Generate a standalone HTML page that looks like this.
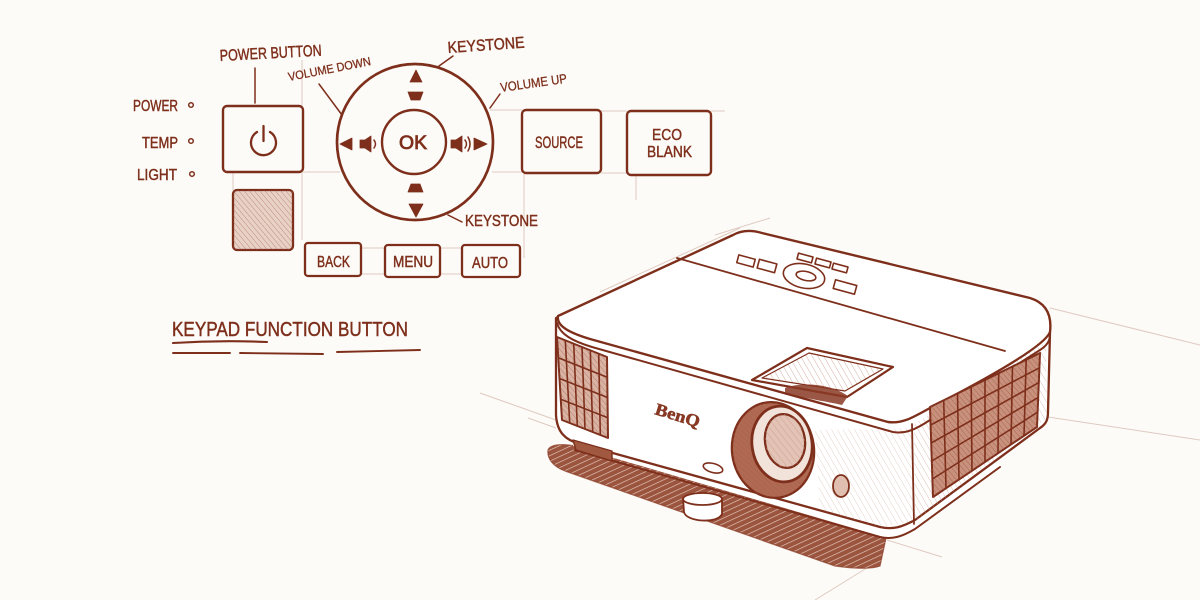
<!DOCTYPE html>
<html><head><meta charset="utf-8"><style>
html,body{margin:0;padding:0;background:#fcfbf8;width:1200px;height:600px;overflow:hidden}
svg{display:block}
text{font-family:"Liberation Sans",sans-serif;fill:#7e2f1b;stroke:#7e2f1b;stroke-width:0.45}
</style></head><body>
<svg width="1200" height="600" viewBox="0 0 1200 600">
<defs>
<pattern id="hs" width="4" height="4" patternUnits="userSpaceOnUse" patternTransform="rotate(-40)"><line x1="0" y1="0" x2="0" y2="4" stroke="#a25a42" stroke-width="1"/></pattern>
<pattern id="hd" width="5" height="5" patternUnits="userSpaceOnUse" patternTransform="rotate(-25)"><rect width="5" height="5" fill="#93472f"/><line x1="0" y1="0" x2="5" y2="0" stroke="#e9cfc2" stroke-width="1.2"/></pattern>
<pattern id="hl" width="5" height="5" patternUnits="userSpaceOnUse" patternTransform="rotate(-30)"><line x1="0" y1="0" x2="0" y2="5" stroke="#c89a88" stroke-width="0.8"/></pattern>
</defs>

<!-- faint guide lines -->
<g stroke="#c9a394" stroke-width="1" fill="none" opacity="0.55">
<line x1="303" y1="172" x2="340" y2="172"/>
<line x1="492" y1="172" x2="522" y2="172"/>
<line x1="490" y1="110" x2="522" y2="110"/>
<line x1="601" y1="111" x2="627" y2="111"/>
<line x1="601" y1="173" x2="627" y2="173"/>
<line x1="711" y1="111" x2="725" y2="111"/>
<line x1="302" y1="60" x2="302" y2="106"/>
<line x1="302" y1="172" x2="302" y2="240"/>
<line x1="524" y1="174" x2="524" y2="258"/>
<line x1="636" y1="175" x2="636" y2="200"/>
<line x1="361" y1="248" x2="385" y2="248"/>
<line x1="361" y1="274" x2="385" y2="274"/>
<line x1="440" y1="248" x2="462" y2="248"/>
<line x1="440" y1="274" x2="462" y2="274"/>
<line x1="233" y1="172" x2="233" y2="190"/>
<line x1="480" y1="393" x2="556" y2="420"/>
<line x1="600" y1="292" x2="740" y2="228"/>
<line x1="715" y1="235" x2="770" y2="218"/>
<line x1="1050" y1="308" x2="1200" y2="345"/>
<line x1="1048" y1="417" x2="1200" y2="440"/>
<line x1="887" y1="540" x2="942" y2="557"/>
<line x1="870" y1="566" x2="815" y2="600"/>
<line x1="528" y1="418" x2="556" y2="428"/>
</g>

<!-- ===== KEYPAD DIAGRAM ===== -->
<g stroke="#7e2f1b" fill="none" stroke-linecap="round" stroke-linejoin="round">
<rect x="223" y="106" width="80" height="66" rx="4" stroke-width="2.4"/>
<rect x="233" y="190" width="60" height="60" rx="4" stroke-width="2.3" fill="#e8d2c7"/>
<rect x="233" y="190" width="60" height="60" rx="4" stroke="none" fill="url(#hs)" opacity="0.6"/>
<rect x="522" y="110" width="79" height="63" rx="4" stroke-width="2.4"/>
<rect x="627" y="111" width="84" height="64" rx="4" stroke-width="2.4"/>
<rect x="305" y="243" width="56" height="33" rx="3" stroke-width="2.3"/>
<rect x="385" y="245" width="55" height="32" rx="3" stroke-width="2.3"/>
<rect x="462" y="245" width="58" height="32" rx="3" stroke-width="2.3"/>
<circle cx="415" cy="142" r="78" stroke-width="2.7"/>
<circle cx="414" cy="142" r="32" stroke-width="2.4"/>
<!-- power icon -->
<path d="M257 132 A12.5 12.5 0 1 0 270 132" stroke-width="2.3"/>
<line x1="263.5" y1="126" x2="263.5" y2="141" stroke-width="2.3"/>
<!-- leaders -->
<line x1="255" y1="68" x2="255" y2="103" stroke-width="1.5"/>
<line x1="319" y1="84" x2="342" y2="115" stroke-width="1.5"/>
<line x1="453" y1="56" x2="439" y2="66" stroke-width="1.5"/>
<line x1="500" y1="94" x2="490" y2="108" stroke-width="1.5"/>
<line x1="462" y1="222" x2="448" y2="215" stroke-width="1.5"/>
<!-- dots -->
<circle cx="191" cy="105" r="2.3" stroke-width="1.5"/>
<circle cx="191" cy="141" r="2.3" stroke-width="1.5"/>
<circle cx="192" cy="174" r="2.3" stroke-width="1.5"/>
<!-- underlines -->
<path d="M173 343 Q220 340 267 342" stroke-width="2.1"/>
<path d="M173 353 L230 353" stroke-width="1.9"/>
<path d="M240 353 L323 354" stroke-width="1.9"/>
<path d="M337 352 L420 350" stroke-width="1.9"/>
</g>
<g fill="#7e2f1b" stroke="#7e2f1b" stroke-width="0.8" stroke-linejoin="round">
<polygon points="416,70 410,82 422,82"/>
<polygon points="408,92 423,92 420,100 411,100"/>
<polygon points="411,184 420,184 423,192 408,192"/>
<polygon points="409,204 423,204 416,217"/>
<polygon points="340,144 352,138 352,150"/>
<polygon points="474,138 474,150 487,144"/>
<path d="M360 140 L365 140 L371 136 L371 152 L365 148 L360 148 Z"/>
<path d="M451 140 L456 140 L462 136 L462 152 L456 148 L451 148 Z"/>
</g>
<g fill="none" stroke="#7e2f1b" stroke-width="1.5" stroke-linecap="round">
<path d="M374 140 Q377 144 374 148"/>
<path d="M465 140 Q468 144 465 148"/>
<path d="M468 137 Q472 144 468 151"/>
</g>

<g font-size="16">
<text x="220" y="61" textLength="102" lengthAdjust="spacingAndGlyphs" transform="rotate(-3 220 61)">POWER BUTTON</text>
<text x="289" y="81" font-size="12" textLength="84" lengthAdjust="spacingAndGlyphs" transform="rotate(-11 289 81)" style="stroke-width:0.3">VOLUME DOWN</text>
<text x="448" y="53" textLength="77" lengthAdjust="spacingAndGlyphs" transform="rotate(-4 448 53)">KEYSTONE</text>
<text x="501" y="92" font-size="13" textLength="67" lengthAdjust="spacingAndGlyphs" transform="rotate(-8 501 92)" style="stroke-width:0.3">VOLUME UP</text>
<text x="133" y="111" textLength="45" lengthAdjust="spacingAndGlyphs">POWER</text>
<text x="142" y="148" textLength="36" lengthAdjust="spacingAndGlyphs">TEMP</text>
<text x="137" y="180" textLength="40" lengthAdjust="spacingAndGlyphs">LIGHT</text>
<text x="399" y="149" font-size="19" textLength="28" lengthAdjust="spacingAndGlyphs" style="stroke-width:0.8">OK</text>
<text x="535" y="148" font-size="17" textLength="48" lengthAdjust="spacingAndGlyphs">SOURCE</text>
<text x="652" y="140" textLength="30" lengthAdjust="spacingAndGlyphs">ECO</text>
<text x="647" y="157" textLength="45" lengthAdjust="spacingAndGlyphs">BLANK</text>
<text x="317" y="267" textLength="33" lengthAdjust="spacingAndGlyphs">BACK</text>
<text x="393" y="267" textLength="40" lengthAdjust="spacingAndGlyphs">MENU</text>
<text x="472" y="268" textLength="36" lengthAdjust="spacingAndGlyphs">AUTO</text>
<text x="465" y="226" textLength="73" lengthAdjust="spacingAndGlyphs">KEYSTONE</text>
<text x="172" y="336" font-size="20" textLength="236" lengthAdjust="spacingAndGlyphs">KEYPAD FUNCTION BUTTON</text>
</g>

<!-- ===== PROJECTOR ===== -->
<!-- shadow -->
<path d="M548 450 C550 445 560 443 575 446 L886 538 L880 566 C870 570 850 568 835 566 L565 471 C552 466 547 458 548 450 Z" fill="url(#hd)" opacity="0.92"/>
<path d="M548 450 C550 445 560 443 575 446 L886 538 L880 566 C870 570 850 568 835 566 L565 471 C552 466 547 458 548 450 Z" fill="none" stroke="#8a3a24" stroke-width="1.2" opacity="0.7"/>

<g stroke="#7e2f1b" stroke-linecap="round" stroke-linejoin="round">
<!-- base -->
<path d="M573 446 L880 536 C893 539 903 535 915 528 L1000 466 L995 460 L575 440 Z" fill="#fff" stroke="none"/>
<path d="M575 450 L880 537 C893 540 903 536 915 529 L1000 467" fill="none" stroke-width="2"/>
<!-- body -->
<path d="M556 318 L556 415 C557 432 565 440 580 444 L880 527 C893 530 902 527 915 520 L1040 428 C1046 424 1048 420 1048 412 L1050 332 L560 316 Z" fill="#fff" stroke-width="2.3"/>
<!-- right face shading -->
<path d="M914 424 L1046 342 L1047 418 L915 522 Z" fill="url(#hl)" stroke="none" opacity="0.8"/>
<path d="M815 430 L912 428 L914 522 L880 527 L820 510 Z" fill="url(#hl)" stroke="none" opacity="0.6"/>
<line x1="912" y1="424" x2="914" y2="524" stroke-width="1.8"/>
<!-- top surface -->
<path d="M558 316 L733 235 C742 230 752 230 762 233 L1030 298 C1046 303 1052 315 1050 332 C1045 345 1000 372 930 408 C912 418 902 424 888 422 L590 339 C570 333 556 326 558 316 Z" fill="#fff" stroke-width="2.4"/>
<!-- lip -->
<path d="M557 323 C560 334 572 341 592 347 L893 432 C905 434 915 430 930 420 L1040 350 C1048 345 1050 340 1050 335" fill="none" stroke-width="2"/>
<!-- keypad strip -->
<line x1="677" y1="258" x2="1005" y2="351" stroke-width="1.8"/>
<!-- keypad buttons -->
<g fill="#fff" stroke-width="1.6">
<rect x="737.5" y="257" width="17" height="8" transform="rotate(15 746 261)"/>
<rect x="758" y="261.5" width="18" height="9" transform="rotate(15 767 266)"/>
<rect x="797.5" y="255" width="15" height="6" transform="rotate(15 805 258)"/>
<rect x="815.5" y="260" width="15" height="6" transform="rotate(15 823 263)"/>
<rect x="832.5" y="265" width="15" height="6" transform="rotate(15 840 268)"/>
<rect x="834" y="282.5" width="22" height="9" transform="rotate(15 845 287)"/>
<ellipse cx="804" cy="276" rx="21" ry="12" transform="rotate(12 804 276)"/>
<ellipse cx="806" cy="276" rx="10" ry="4.5" transform="rotate(12 806 276)"/>
</g>
<!-- lens window on top -->
<polygon points="752,380 807,348 893,367 847,397" fill="#fff" stroke-width="2.2"/>
<polygon points="762,378 809,353 883,369 845,391" fill="url(#hl)" stroke-width="1.2"/>
<path d="M785 388 C800 382 830 383 848 396 L842 405 C825 401 800 398 785 392 Z" fill="#8a3a24" stroke="none" opacity="0.85"/>
<!-- left grille -->
<polygon points="557,337 607,357 608,438 562,420" fill="#d9b3a4" stroke-width="2"/>
<polygon points="557,337 607,357 608,438 562,420" fill="url(#hs)" stroke="none" opacity="0.6"/>
<g stroke-width="1.6" fill="none">
<line x1="565.3" y1="340.3" x2="569.7" y2="423"/>
<line x1="573.7" y1="343.7" x2="577.3" y2="426"/>
<line x1="582" y1="347" x2="585" y2="429"/>
<line x1="590.3" y1="350.3" x2="592.7" y2="432"/>
<line x1="598.7" y1="353.7" x2="600.3" y2="435"/>
<line x1="558.2" y1="357.7" x2="607.2" y2="377.2"/>
<line x1="559.5" y1="378.5" x2="607.5" y2="397.5"/>
<line x1="560.7" y1="399.2" x2="607.7" y2="417.7"/>
</g>
<!-- bottom vent -->
<polygon points="573,440 612,451 612,461 576,450" fill="#a05840" stroke-width="1.4"/>
<!-- right grille -->
<polygon points="930,407 1040,353 1037,427 933,497" fill="#c8917d" stroke-width="2"/>
<polygon points="930,407 1040,353 1037,427 933,497" fill="url(#hs)" stroke="none" opacity="0.8"/>
<g stroke-width="1.6" fill="none">
<line x1="943.7" y1="400.2" x2="946" y2="488.2"/>
<line x1="957.5" y1="393.5" x2="959" y2="479.5"/>
<line x1="971.2" y1="386.7" x2="972" y2="470.7"/>
<line x1="985" y1="380" x2="985" y2="462"/>
<line x1="998.7" y1="373.2" x2="998" y2="453.2"/>
<line x1="1012.5" y1="366.5" x2="1011" y2="444.5"/>
<line x1="1026.2" y1="359.7" x2="1024" y2="435.7"/>
<line x1="930.6" y1="425" x2="1039.4" y2="367.8"/>
<line x1="931.2" y1="443" x2="1038.8" y2="382.6"/>
<line x1="931.8" y1="461" x2="1038.2" y2="397.4"/>
<line x1="932.4" y1="479" x2="1037.6" y2="412.2"/>
</g>
<!-- lens -->
<ellipse cx="773" cy="450" rx="41" ry="48" transform="rotate(-8 773 450)" fill="#b06a53" stroke-width="2.3"/>
<ellipse cx="773" cy="450" rx="41" ry="48" transform="rotate(-8 773 450)" fill="url(#hs)" stroke="none" opacity="0.6"/>
<ellipse cx="782" cy="444" rx="30" ry="38" transform="rotate(-8 782 444)" fill="#f1e2da" stroke-width="2.8"/>
<ellipse cx="785" cy="441" rx="20" ry="27" transform="rotate(-8 785 441)" fill="#e3c3b5" stroke-width="2.3"/>
<ellipse cx="785" cy="441" rx="20" ry="27" transform="rotate(-8 785 441)" fill="url(#hl)" stroke="none"/>
<!-- small details -->
<ellipse cx="713" cy="468" rx="10" ry="4.5" transform="rotate(15 713 468)" fill="#fff" stroke-width="1.6"/>
<ellipse cx="841" cy="486" rx="8" ry="11" fill="#e0bfb1" stroke-width="1.8"/>
<!-- foot -->
<path d="M683 498 L684 512 C686 522 718 524 722 514 L722 500" fill="#fff" stroke-width="1.8"/>
<ellipse cx="702.5" cy="499" rx="19.5" ry="6" fill="#fff" stroke-width="1.8"/>
</g>
<text x="654" y="414" font-family="Liberation Serif,serif" font-weight="bold" font-size="17" textLength="46" lengthAdjust="spacingAndGlyphs" transform="rotate(17 654 414)" style="font-family:'Liberation Serif',serif;fill:#8a3a24;stroke-width:0.5">BenQ</text>
</svg>
</body></html>
